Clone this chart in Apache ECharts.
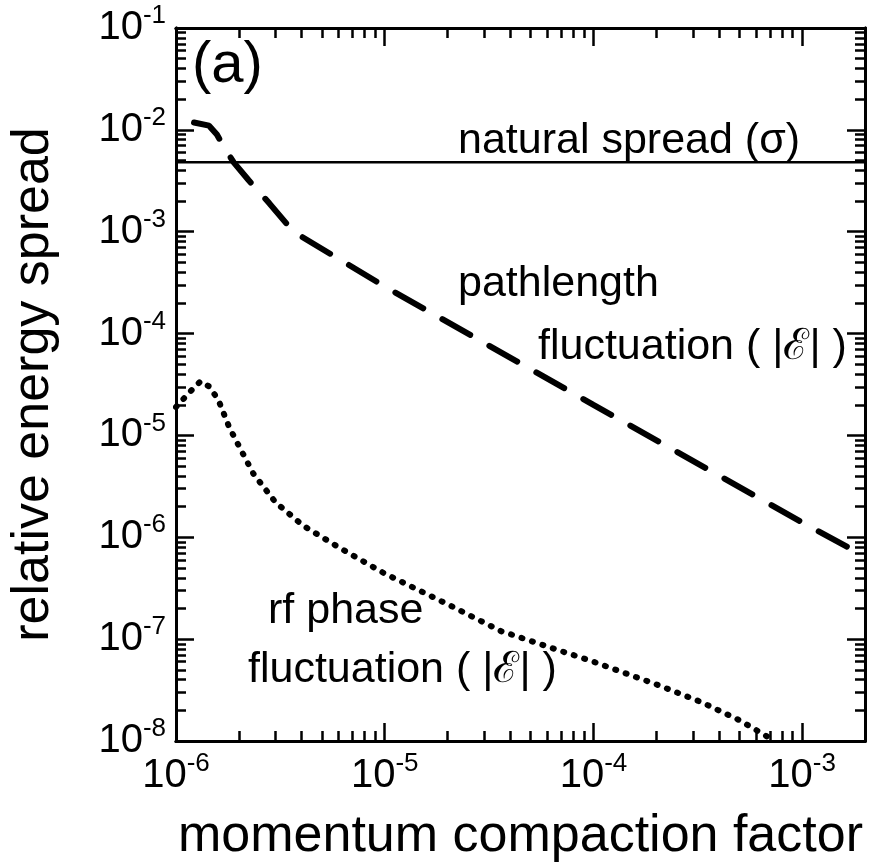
<!DOCTYPE html>
<html>
<head>
<meta charset="utf-8">
<script src="https://cdn.jsdelivr.net/npm/echarts@6/dist/echarts.min.js"></script>
<style>html,body{margin:0;padding:0;background:#fff}#c{width:877px;height:868px}</style>
</head>
<body>
<div id="c"></div>
<script>
// natural spread (sigma), constant
const naturalSpread = 4.8e-3;
// pathlength fluctuation
const pathX = [1.22e-6, 1.44e-6, 1.57e-6, 1.72e-6, 1.89e-6, 2.23e-6, 2.8e-6, 3.65e-6, 1e-5, 1e-4, 1e-3, 2e-3];
const pathY = [1.18e-2, 1.1e-2, 9.0e-3, 6.5e-3, 4.8e-3, 3.2e-3, 1.9e-3, 1.0e-3, 2.9e-4, 2.0e-5, 1.4e-6, 6.5e-7];
// rf phase fluctuation
const rfX = [1e-6, 1.15e-6, 1.31e-6, 1.45e-6, 1.6e-6, 1.8e-6, 2e-6, 2.35e-6, 3e-6, 4.07e-6, 6e-6, 1e-5, 2e-5, 3.6e-5, 1e-4, 2e-4, 3.3e-4, 5e-4, 7.4e-4];
const rfY = [1.9e-5, 2.6e-5, 3.4e-5, 3.0e-5, 2.2e-5, 1.2e-5, 7.9e-6, 4.2e-6, 2.2e-6, 1.3e-6, 8e-7, 4.4e-7, 2.2e-7, 1.2e-7, 6e-8, 3.6e-8, 2.4e-8, 1.6e-8, 1e-8];

// tick positions
const xMajor = [1e-6, 1e-5, 1e-4, 1e-3];
const yMajor = [1e-8, 1e-7, 1e-6, 1e-5, 1e-4, 1e-3, 1e-2, 1e-1];
function minorsBetween(lo, hi) {
    const out = [];
    for (let e = Math.floor(Math.log10(lo)); e <= Math.ceil(Math.log10(hi)); e++) {
        for (let m = 2; m <= 9; m++) {
            const v = m * Math.pow(10, e);
            if (v > lo && v < hi) out.push(v);
        }
    }
    return out;
}
const X_MIN = 1e-6, X_MAX = 2e-3, Y_MIN = 1e-8, Y_MAX = 1e-1;
const xMinor = minorsBetween(X_MIN, X_MAX);
const yMinor = minorsBetween(Y_MIN, Y_MAX);

const pair = (xs, ys) => xs.map((x, i) => [x, ys[i]]);
const font = 'Liberation Sans, Arial, sans-serif';

function powLabel(v) {
    const e = Math.round(Math.log10(v));
    return '{b|10}{s|' + e + '}';
}
const labelRich = {
    b: { fontSize: 40, fontFamily: font, color: '#000' },
    s: { fontSize: 26, fontFamily: font, color: '#000', verticalAlign: 'top', padding: [0, 0, 24, 0] }
};

function makeAxis(pos, min, max, ticks, len, labels) {
    return {
        type: 'log', logBase: 10, min: min, max: max, position: pos,
        axisLine: { show: true, onZero: false, lineStyle: { color: '#000', width: 3 } },
        axisTick: { show: true, inside: true, length: len, customValues: ticks, lineStyle: { color: '#000', width: 2.5 } },
        splitLine: { show: false },
        axisLabel: labels ? { customValues: ticks, formatter: powLabel, rich: labelRich, margin: 10 } : { show: false }
    };
}

function note(x, y, text, size) {
    return { type: 'text', x: x, y: y,
        style: { text: text, fontSize: size || 43, fontFamily: font, fill: '#000', verticalAlign: 'middle' } };
}

const chart = echarts.init(document.getElementById('c'));
chart.setOption({
    animation: false,
    backgroundColor: '#fff',
    grid: { left: 170, right: 12, top: 28, bottom: 124 },
    xAxis: [
        Object.assign(makeAxis('bottom', X_MIN, X_MAX, xMajor, 18, true), {
            name: 'momentum compaction factor', nameLocation: 'middle', nameGap: 70,
            nameTextStyle: { fontSize: 52, fontFamily: font, color: '#000' } }),
        makeAxis('bottom', X_MIN, X_MAX, xMinor, 10, false),
        makeAxis('top', X_MIN, X_MAX, xMajor, 18, false),
        makeAxis('top', X_MIN, X_MAX, xMinor, 10, false)
    ],
    yAxis: [
        Object.assign(makeAxis('left', Y_MIN, Y_MAX, yMajor, 18, true), {
            name: 'relative energy spread', nameLocation: 'middle', nameGap: 116,
            nameTextStyle: { fontSize: 52, fontFamily: font, color: '#000' } }),
        makeAxis('left', Y_MIN, Y_MAX, yMinor, 10, false),
        makeAxis('right', Y_MIN, Y_MAX, yMajor, 18, false),
        makeAxis('right', Y_MIN, Y_MAX, yMinor, 10, false)
    ],
    graphic: [
        note(192, 66, '(a)', 58),
        note(458, 141, 'natural spread (\u03C3)'),
        note(458, 284, 'pathlength'),
        note(538, 347, 'fluctuation ( |\u2130| )'),
        note(268, 611, 'rf phase'),
        note(248, 670, 'fluctuation ( |\u2130| )')
    ],
    series: [
        { type: 'line', data: [[X_MIN, naturalSpread], [X_MAX, naturalSpread]], symbol: 'none',
          lineStyle: { color: '#000', width: 2.5 } },
        { type: 'line', data: pair(pathX, pathY), symbol: 'none',
          lineStyle: { color: '#000', width: 6, type: [32, 22], cap: 'round' } },
        { type: 'line', data: pair(rfX, rfY), symbol: 'none',
          lineStyle: { color: '#000', width: 6, type: [1, 10], cap: 'round' } }
    ]
});
</script>
</body>
</html>
